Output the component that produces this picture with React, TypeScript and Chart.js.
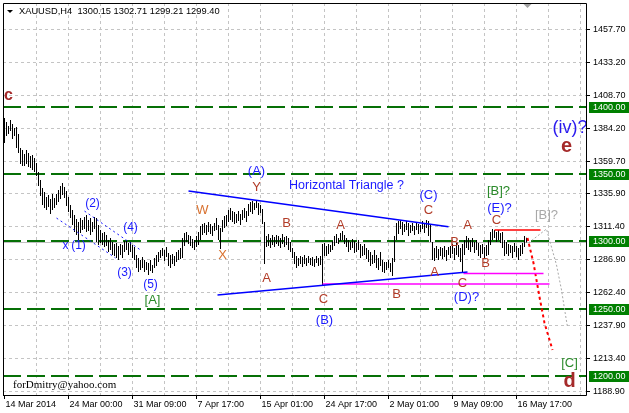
import React, { useEffect, useRef } from 'react';
import { Chart, registerables } from 'chart.js';
Chart.register(...registerables);

// ---------- data ----------
const TITLE = 'XAUUSD,H4  1300.15 1302.71 1299.21 1299.40';
const WATERMARK = 'forDmitry@yahoo.com';
const X_TICK_BARS = [0, 32, 64, 96, 128, 160, 192, 224, 256];
const X_TICK_LABELS = ['14 Mar 2014', '24 Mar 00:00', '31 Mar 09:00', '7 Apr 17:00', '15 Apr 01:00', '24 Apr 17:00', '2 May 01:00', '9 May 09:00', '16 May 17:00'];
const Y_TICK_LABELS = ['1457.70', '1433.20', '1408.70', '1384.20', '1359.70', '1335.90', '1311.40', '1286.90', '1262.40', '1237.90', '1213.40', '1188.90'];
const LEVELS = [1400, 1350, 1300, 1250, 1200];
const BID = 1299.4;
const GRID_STEP = 16;

const HIGHS = [
  1391.6, 1388.6, 1385.7, 1390.1, 1387.2, 1384.2, 1384.9, 1379.7, 1369.3, 1367.9,
  1364.9, 1367.9, 1365.6, 1363.4, 1364.1, 1361.9, 1358.2, 1351.5, 1345.6, 1339.6,
  1336.7, 1332.9, 1334.4, 1331.5, 1335.2, 1332.2, 1335.2, 1338.1, 1341.1, 1343.3,
  1340.4, 1337.4, 1332.9, 1327.0, 1323.3, 1319.6, 1316.6, 1314.4, 1317.3, 1315.9,
  1318.1, 1319.6, 1315.9, 1317.3, 1314.4, 1318.1, 1317.3, 1312.2, 1308.4, 1306.2,
  1307.0, 1304.7, 1301.0, 1302.5, 1299.5, 1298.1, 1298.8, 1296.6, 1298.1, 1297.3,
  1300.3, 1301.0, 1298.8, 1299.5, 1297.3, 1295.8, 1289.9, 1287.7, 1286.2, 1288.4,
  1286.2, 1284.7, 1283.9, 1286.2, 1282.5, 1287.7, 1289.9, 1292.1, 1293.6, 1295.1,
  1293.6, 1295.8, 1291.4, 1289.9, 1290.6, 1289.1, 1292.1, 1293.6, 1295.1, 1302.5,
  1306.2, 1307.0, 1304.7, 1304.0, 1301.8, 1301.0, 1304.0, 1307.0, 1311.4, 1312.9,
  1313.6, 1312.2, 1314.4, 1312.9, 1311.4, 1313.6, 1317.3, 1312.2, 1309.9, 1315.9,
  1318.8, 1319.6, 1323.3, 1324.8, 1322.5, 1321.8, 1320.3, 1322.5, 1320.3, 1323.3,
  1324.8, 1322.5, 1327.7, 1329.2, 1330.0, 1328.5, 1330.7, 1328.5, 1327.0, 1324.0,
  1314.4, 1304.0, 1305.5, 1302.5, 1304.7, 1303.3, 1304.7, 1304.0, 1302.5, 1305.5,
  1303.3, 1304.0, 1302.5, 1299.5, 1295.1, 1292.1, 1289.1, 1287.7, 1289.1, 1288.4,
  1289.9, 1287.7, 1289.1, 1287.7, 1288.4, 1286.9, 1289.1, 1287.7, 1289.1, 1298.1,
  1298.8, 1296.6, 1298.1, 1297.3, 1300.3, 1304.0, 1305.5, 1302.5, 1306.2, 1307.7,
  1304.7, 1302.5, 1301.0, 1299.5, 1301.8, 1300.3, 1298.8, 1301.0, 1298.1, 1296.6,
  1298.1, 1295.1, 1293.6, 1292.1, 1289.9, 1293.6, 1289.9, 1287.7, 1292.1, 1286.2,
  1284.7, 1284.7, 1286.2, 1283.9, 1287.7, 1304.0, 1313.6, 1315.1, 1315.9, 1314.4,
  1312.9, 1315.1, 1313.6, 1312.2, 1313.6, 1311.4, 1314.4, 1312.9, 1312.2, 1315.1,
  1313.6, 1315.9, 1315.1, 1312.2, 1299.5, 1295.1, 1296.6, 1294.3, 1295.8, 1295.1,
  1296.6, 1293.6, 1295.8, 1296.6, 1298.1, 1295.1, 1298.8, 1297.3, 1295.1, 1298.1,
  1301.0, 1304.0, 1302.5, 1301.0, 1302.5, 1299.5, 1301.0, 1298.8, 1297.3, 1298.1,
  1295.8, 1297.3, 1301.0, 1307.0, 1309.2, 1308.4, 1307.0, 1308.4, 1306.2, 1307.0,
  1301.0, 1299.5, 1298.1, 1297.3, 1296.6, 1298.8, 1296.6, 1295.1, 1297.3, 1298.8,
  1304.0, 1302.71,
];
const LOWS = [
  1373.0, 1378.2, 1379.7, 1381.9, 1376.0, 1378.2, 1369.3, 1365.6, 1357.4, 1355.9,
  1355.9, 1357.4, 1355.2, 1354.5, 1353.0, 1351.5, 1348.5, 1341.1, 1333.7, 1327.0,
  1324.8, 1323.3, 1325.5, 1320.3, 1323.3, 1324.8, 1327.0, 1329.2, 1331.5, 1334.4,
  1332.2, 1326.3, 1321.8, 1317.3, 1312.2, 1307.0, 1304.7, 1301.0, 1306.2, 1308.4,
  1309.2, 1307.0, 1307.7, 1304.7, 1307.0, 1309.2, 1299.5, 1297.3, 1298.8, 1297.3,
  1295.8, 1296.6, 1292.1, 1293.6, 1289.9, 1289.1, 1287.7, 1286.2, 1289.9, 1287.7,
  1292.1, 1293.6, 1289.9, 1292.1, 1287.7, 1286.2, 1280.2, 1277.3, 1278.8, 1280.2,
  1277.3, 1278.8, 1275.0, 1278.0, 1276.5, 1280.2, 1281.7, 1284.7, 1287.7, 1289.1,
  1285.4, 1288.4, 1281.7, 1280.2, 1283.2, 1281.7, 1284.7, 1286.2, 1286.9, 1287.7,
  1296.6, 1299.5, 1298.1, 1296.6, 1295.1, 1293.6, 1295.8, 1297.3, 1301.0, 1304.7,
  1306.2, 1304.7, 1307.0, 1305.5, 1304.0, 1307.7, 1308.4, 1301.0, 1294.3, 1307.0,
  1309.9, 1311.4, 1314.4, 1315.9, 1314.4, 1312.9, 1313.6, 1315.1, 1312.2, 1315.9,
  1317.3, 1314.4, 1318.8, 1321.8, 1320.3, 1323.3, 1324.8, 1319.6, 1321.1, 1312.9,
  1283.2, 1295.8, 1296.6, 1295.1, 1297.3, 1295.8, 1298.1, 1296.6, 1295.1, 1298.1,
  1295.8, 1297.3, 1293.6, 1292.1, 1287.7, 1283.2, 1280.2, 1281.7, 1283.2, 1281.0,
  1283.2, 1281.7, 1283.9, 1282.5, 1281.7, 1281.0, 1283.9, 1281.7, 1282.5, 1267.6,
  1289.1, 1289.1, 1290.6, 1292.1, 1293.6, 1296.6, 1298.8, 1298.1, 1300.3, 1301.0,
  1298.1, 1295.8, 1292.1, 1293.6, 1295.1, 1291.4, 1292.1, 1293.6, 1287.7, 1289.1,
  1289.9, 1286.9, 1284.7, 1281.7, 1283.2, 1283.9, 1280.2, 1278.8, 1281.7, 1277.3,
  1276.5, 1278.8, 1280.2, 1277.3, 1274.3, 1284.7, 1301.0, 1305.5, 1309.2, 1304.7,
  1307.0, 1308.4, 1304.0, 1306.2, 1307.7, 1304.7, 1308.4, 1305.5, 1307.0, 1309.2,
  1306.2, 1309.9, 1304.0, 1299.5, 1286.2, 1285.4, 1287.7, 1286.2, 1289.1, 1286.9,
  1288.4, 1285.4, 1289.9, 1287.7, 1290.6, 1286.2, 1289.9, 1288.4, 1284.7, 1277.3,
  1289.9, 1295.1, 1293.6, 1292.1, 1295.8, 1291.4, 1293.6, 1289.1, 1287.7, 1290.6,
  1286.9, 1289.1, 1289.9, 1297.3, 1301.0, 1302.5, 1299.5, 1301.0, 1298.8, 1295.1,
  1289.1, 1290.6, 1289.1, 1291.4, 1287.7, 1292.1, 1288.4, 1286.2, 1289.1, 1290.6,
  1295.8, 1299.21,
];

// drawn objects: [barIndex, price]
const TRIANGLE_UPPER = [[92, 1337.4], [222, 1310.9]];
const TRIANGLE_LOWER = [[106.5, 1260.2], [231.5, 1277.3]];
const MAGENTA_1 = [[229.5, 1276.2], [269.5, 1276.2]];
const MAGENTA_2 = [[159, 1268.4], [272.5, 1268.4]];
const RED_LEVEL = [[245, 1308.4], [268, 1308.4]];
const RED_PATH = [[261.5, 1302.5], [264.5, 1283.9], [267.5, 1258.7], [270, 1239.4], [274, 1219.4]];
const GRAY_PATH = [[262, 1298.8], [271, 1309.2], [272.5, 1301.0], [276, 1282.5], [278.5, 1263.9], [280.5, 1245.3], [281.5, 1236.4]];
const CHANNEL_UPPER = [[40, 1322.5], [68, 1293.6]];
const CHANNEL_LOWER = [[26, 1317.3], [55.5, 1287.7]];

// labels: [text, barIndex, price]
const BROWN_LABELS = [
  ['Y', 126, 1340.4], ['B', 141, 1313.6], ['A', 131, 1272.8], ['A', 168, 1312.2], ['C', 159.5, 1257.2],
  ['B', 196, 1260.9], ['C', 212, 1323.3], ['A', 215, 1277.3], ['B', 225, 1299.5], ['C', 229, 1269.1],
  ['A', 231.5, 1312.2], ['B', 240.5, 1283.9], ['C', 246, 1315.9],
];
const ORANGE_LABELS = [['W', 99, 1323.3], ['X', 109, 1289.9]];
const BLUE_MAJOR = [['(A)', 126, 1352.2], ['(B)', 160, 1241.6], ['(C)', 212, 1334.4], ['(D)?', 231, 1258.7], ['(E)?', 247.5, 1324.8]];
const BLUE_MINOR = [['x', 30.5, 1297.0], ['(1)', 37, 1296.6], ['(2)', 44, 1327.7], ['(3)', 60, 1276.5], ['(4)', 63, 1309.9], ['(5)', 73, 1267.6]];
const GREEN_LABELS = [['[A]', 74, 1256.5], ['[B]?', 247, 1337.4], ['[C]', 282.5, 1209.7]];
const GRAY_LABELS = [['[B]?', 271, 1319.6]];
const DEGREE_LABELS = [['c', 2, 1408.3, 16], ['e', 281, 1370.1, 20], ['d', 282.5, 1196.3, 20]];
const NOTE_LABELS = [['Horizontal Triangle ?', 171, 1341.1]];
const BIG_LABELS = [['(iv)?', 282.75, 1384.2]];

// ---------- styles ----------
const SANS = '"Liberation Sans", Arial, sans-serif';
const SERIF = '"Liberation Serif", "Times New Roman", serif';

const toPts = (arr: number[][]) => arr.map(([x, y]) => ({ x, y }));

const lineDs = (pts: number[][], color: string, width: number, dash: number[] = []) => ({
  type: 'line' as const,
  data: toPts(pts),
  borderColor: color,
  borderWidth: width,
  borderDash: dash,
  pointRadius: 0,
  fill: false,
  tension: 0,
  order: 1,
});

const mtPlugin = {
  id: 'mtPlugin',
  beforeDraw(chart: any) {
    const { ctx, width, height } = chart;
    ctx.save();
    ctx.fillStyle = '#ffffff';
    ctx.fillRect(0, 0, width, height);
    ctx.restore();
  },
  beforeDatasetsDraw(chart: any) {
    const { ctx, chartArea: a } = chart;
    const xs = chart.scales.x, ys = chart.scales.y;
    ctx.save();
    ctx.beginPath();
    ctx.rect(a.left, a.top, a.right - a.left, a.bottom - a.top);
    ctx.clip();
    ctx.strokeStyle = '#c4c4c4';
    ctx.lineWidth = 1;
    ctx.setLineDash([3, 3]);
    for (let k = GRID_STEP; k < xs.max; k += GRID_STEP) {
      const px = Math.floor(xs.getPixelForValue(k)) + 0.5;
      ctx.beginPath(); ctx.moveTo(px, a.top); ctx.lineTo(px, a.bottom); ctx.stroke();
    }
    for (const lbl of Y_TICK_LABELS) {
      const py = Math.round(ys.getPixelForValue(Number(lbl))) + 0.5;
      ctx.beginPath(); ctx.moveTo(a.left, py); ctx.lineTo(a.right, py); ctx.stroke();
    }
    // bid line
    ctx.setLineDash([]);
    ctx.strokeStyle = '#c0c0c0';
    const pb = Math.round(ys.getPixelForValue(BID)) + 0.5;
    ctx.beginPath(); ctx.moveTo(a.left, pb); ctx.lineTo(a.right, pb); ctx.stroke();
    // levels
    ctx.strokeStyle = '#067006';
    ctx.lineWidth = 2;
    ctx.setLineDash([18, 6]);
    for (const v of LEVELS) {
      const py = Math.round(ys.getPixelForValue(v));
      ctx.beginPath(); ctx.moveTo(a.left, py); ctx.lineTo(a.right, py); ctx.stroke();
    }
    ctx.restore();
  },
  afterDatasetsDraw(chart: any) {
    const { ctx } = chart;
    const xs = chart.scales.x, ys = chart.scales.y;
    ctx.save();
    ctx.textAlign = 'center';
    ctx.textBaseline = 'middle';
    const put = (list: any[], font: string, color: string) => {
      ctx.font = font;
      ctx.fillStyle = color;
      for (const [t, i, p] of list) ctx.fillText(t, xs.getPixelForValue(i), ys.getPixelForValue(p));
    };
    put(BROWN_LABELS, `13px ${SANS}`, '#b23c28');
    put(ORANGE_LABELS, `13px ${SANS}`, '#d8702e');
    put(BLUE_MAJOR, `13px ${SANS}`, '#1a1aff');
    put(BLUE_MINOR, `12px ${SANS}`, '#1a1aff');
    put(GREEN_LABELS, `13px ${SANS}`, '#2a8a2a');
    put(GRAY_LABELS, `13px ${SANS}`, '#a8a8a8');
    put(NOTE_LABELS, `12.5px ${SANS}`, '#1a1aff');
    put(BIG_LABELS, `18px ${SANS}`, '#2a1aee');
    ctx.fillStyle = '#a52a2a';
    for (const [t, i, p, s] of DEGREE_LABELS as any[]) {
      ctx.font = `bold ${s}px ${SANS}`;
      ctx.fillText(t, xs.getPixelForValue(i), ys.getPixelForValue(p));
    }
    ctx.restore();
  },
  afterDraw(chart: any) {
    const { ctx, chartArea: a, width } = chart;
    const xs = chart.scales.x, ys = chart.scales.y;
    ctx.save();
    // frame
    ctx.strokeStyle = '#000';
    ctx.lineWidth = 1;
    ctx.beginPath();
    ctx.moveTo(a.left + 0.5, a.bottom); ctx.lineTo(a.left + 0.5, a.top + 0.5);
    ctx.lineTo(a.right - 0.5, a.top + 0.5); ctx.lineTo(a.right - 0.5, a.bottom + 0.5);
    ctx.lineTo(a.left, a.bottom + 0.5);
    ctx.stroke();
    // y ticks + labels
    ctx.font = `9px ${SANS}`;
    ctx.textAlign = 'left';
    ctx.textBaseline = 'middle';
    ctx.fillStyle = '#000';
    for (const lbl of Y_TICK_LABELS) {
      const py = Math.round(ys.getPixelForValue(Number(lbl))) + 0.5;
      ctx.beginPath(); ctx.moveTo(a.right, py); ctx.lineTo(a.right + 3, py); ctx.stroke();
      ctx.fillText(lbl, a.right + 6, py);
    }
    // highlighted level labels
    for (const v of LEVELS) {
      const py = ys.getPixelForValue(v);
      ctx.fillStyle = '#008000';
      ctx.fillRect(a.right + 2, Math.round(py) - 5, width - a.right - 2, 11);
      ctx.fillStyle = '#ffffff';
      ctx.fillText(v.toFixed(2), a.right + 6, Math.round(py) + 0.5);
    }
    // x ticks + labels
    ctx.fillStyle = '#000';
    X_TICK_BARS.forEach((b, k) => {
      const px = Math.floor(xs.getPixelForValue(b)) + 0.5;
      ctx.beginPath(); ctx.moveTo(px, a.bottom); ctx.lineTo(px, a.bottom + 4); ctx.stroke();
      ctx.fillText(X_TICK_LABELS[k], px + 1, a.bottom + 10);
    });
    // title
    ctx.beginPath();
    ctx.moveTo(a.left + 4, a.top + 7); ctx.lineTo(a.left + 10, a.top + 7); ctx.lineTo(a.left + 7, a.top + 10);
    ctx.closePath(); ctx.fill();
    ctx.font = `9.3px ${SANS}`;
    ctx.fillText(TITLE, a.left + 16, a.top + 8.5);
    // watermark
    ctx.font = `11px ${SERIF}`;
    ctx.fillText(WATERMARK, a.left + 10, a.bottom - 10);
    // chart shift marker
    const sx = xs.getPixelForValue(HIGHS.length - 0.5);
    ctx.fillStyle = '#a0a0a0';
    ctx.beginPath();
    ctx.moveTo(sx - 4, a.top + 1); ctx.lineTo(sx + 4, a.top + 1); ctx.lineTo(sx, a.top + 5);
    ctx.closePath(); ctx.fill();
    ctx.restore();
  },
};

export default function App() {
  const ref = useRef<HTMLCanvasElement>(null);
  useEffect(() => {
    const bars = HIGHS.map((h, i) => ({ x: i, y: [LOWS[i], h] }));
    const chart = new Chart(ref.current as HTMLCanvasElement, {
      type: 'bar',
      data: {
        datasets: [
          {
            type: 'bar',
            data: bars as any,
            backgroundColor: '#000000',
            borderWidth: 0,
            inflateAmount: 0,
            barThickness: 1,
            grouped: false,
            order: 10,
          } as any,
          lineDs(CHANNEL_UPPER, '#1a1aff', 1, [2, 3]),
          lineDs(CHANNEL_LOWER, '#1a1aff', 1, [2, 3]),
          lineDs(TRIANGLE_UPPER, '#0000ff', 1.5),
          lineDs(TRIANGLE_LOWER, '#0000ff', 1.5),
          lineDs(MAGENTA_1, '#ff00ff', 1.5),
          lineDs(MAGENTA_2, '#ff00ff', 1.5),
          lineDs(RED_LEVEL, '#ff0000', 1.5),
          lineDs(RED_PATH, '#ff0000', 2, [3, 3]),
          lineDs(GRAY_PATH, '#a8a8a8', 1, [2, 2]),
        ] as any,
      },
      options: {
        responsive: false,
        animation: false,
        devicePixelRatio: 1,
        events: [],
        layout: { padding: { left: 3, top: 3, right: 42, bottom: 18 } },
        plugins: { legend: { display: false }, tooltip: { enabled: false } },
        scales: {
          x: { type: 'linear', min: -0.75, max: 291.25, display: false, offset: false },
          y: { type: 'linear', min: 1185.93, max: 1477.0, display: false },
        },
      } as any,
      plugins: [mtPlugin],
    });
    return () => chart.destroy();
  }, []);
  return (
    <div style={{ position: 'fixed', left: 0, top: 0, width: 629, height: 413, background: '#fff' }}>
      <canvas ref={ref} width={629} height={413} style={{ display: 'block', width: 629, height: 413 }} />
    </div>
  );
}
